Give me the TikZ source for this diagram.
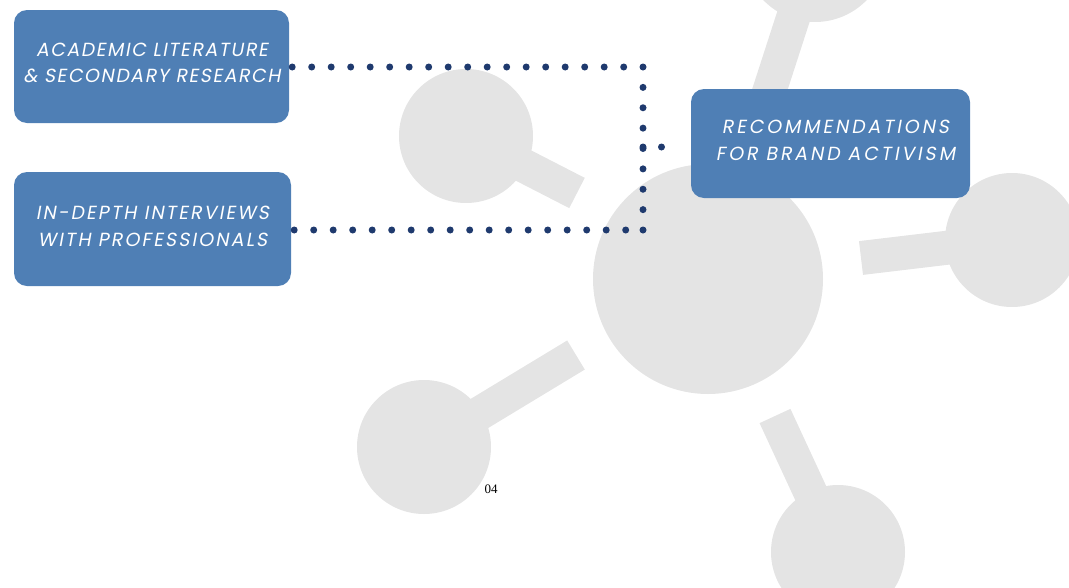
\documentclass[tikz,border=0pt]{standalone}
\usepackage{fontspec}
\newfontfamily\boxfontA{Poppins}[FakeSlant=0.18, LetterSpace=8]
\newfontfamily\boxfontB{Poppins}[FakeSlant=0.18, LetterSpace=11]
\newfontfamily\boxfontC{Poppins}[FakeSlant=0.18, LetterSpace=15]
\newfontfamily\numfont{Liberation Serif}
\definecolor{molgray}{HTML}{E4E4E4}
\definecolor{boxblue}{HTML}{4F7FB5}
\definecolor{navy}{HTML}{1F3A6E}
\tikzset{
  atom/.style={fill=molgray, draw=none},
  bond/.style={draw=molgray, line width=34pt, line cap=butt},
  card/.style={fill=boxblue, draw=none, rounded corners=13pt, inner sep=0pt},
  cardtext/.style={text=white, align=center, inner sep=0pt},
  dotline/.style={draw=navy, line width=7pt, line cap=round, dash pattern=on 0pt off #1},
}
\begin{document}
\begin{tikzpicture}[x=1pt, y=-1pt]
\useasboundingbox (0,0) rectangle (1069,587);
% background molecule
\coordinate (mc) at (708,279);
\coordinate (mtop) at (815,-50);
\coordinate (mright) at (1012,240);
\coordinate (mbr) at (838,552);
\coordinate (mbl) at (424,447);
\coordinate (mul) at (466,136);
\coordinate (etop) at (760,120);
\coordinate (eright) at (861,258);
\coordinate (ebr) at (775,416);
\coordinate (ebl) at (576,355);
\coordinate (eul) at (577,193);
\draw[bond] (mtop) -- (etop);
\draw[bond] (mright) -- (eright);
\draw[bond] (mbr) -- (ebr);
\draw[bond] (mbl) -- (ebl);
\draw[bond] (mul) -- (eul);
\fill[atom] (mc) circle[radius=115];
\fill[atom] (mtop) circle[radius=72];
\fill[atom] (mright) circle[radius=67];
\fill[atom] (mbr) circle[radius=67];
\fill[atom] (mbl) circle[radius=67];
\fill[atom] (mul) circle[radius=67];
% boxes
\node[card, minimum width=275pt, minimum height=113pt] (b1) at (151.5,66.5) {};
\node[card, minimum width=277pt, minimum height=114pt] (b2) at (152.5,229) {};
\node[card, minimum width=279pt, minimum height=109pt] (b3) at (830.5,143.5) {};
\node[cardtext, font=\boxfontA\fontsize{19}{26}\selectfont] (t1) at (152,63) {ACADEMIC LITERATURE\\\& SECONDARY RESEARCH};
\node[cardtext, font=\boxfontB\fontsize{19}{27}\selectfont] (t2) at (152.5,226) {IN-DEPTH INTERVIEWS\\WITH PROFESSIONALS};
\node[cardtext, font=\boxfontC\fontsize{19}{27}\selectfont] (t3) at (835.5,140) {RECOMMENDATIONS\\FOR BRAND ACTIVISM};
% connectors
\coordinate (c1) at (643,67);
\coordinate (c2) at (643,230);
\coordinate (c3) at (643,147);
\draw[dotline=19.5pt] ([xshift=3pt]b1.east |- c1) -- (c1);
\draw[dotline=20.375pt] (c1) -- (c2);
\draw[dotline=19.5pt] ([xshift=3pt]b2.east |- c2) -- (c2);
\draw[dotline=18.5pt] (c3) -- ([xshift=-11pt]b3.west |- c3);
% page number
\node[font=\numfont\fontsize{13}{13}\selectfont, inner sep=0pt] (pn) at (491,489) {04};
\end{tikzpicture}
\end{document}
